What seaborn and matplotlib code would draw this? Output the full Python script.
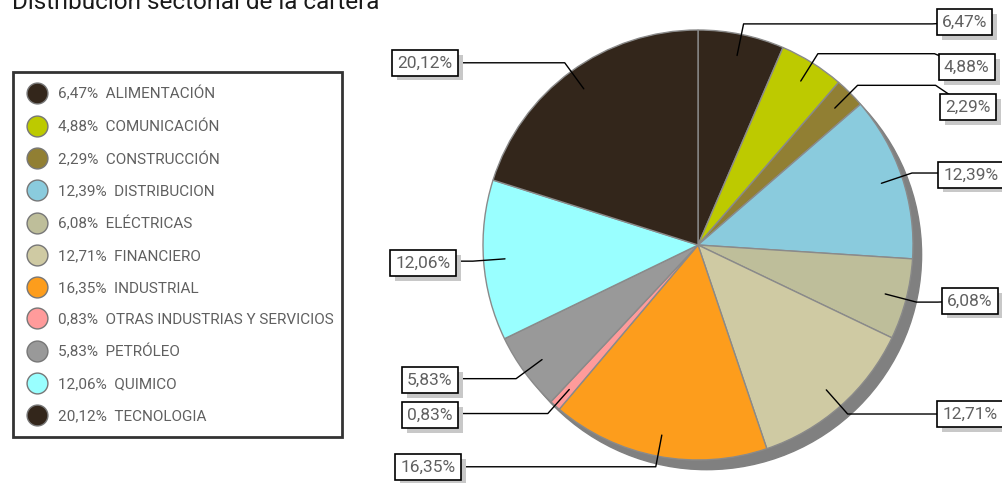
import numpy as np
import seaborn as sns
import matplotlib.pyplot as plt
from matplotlib.lines import Line2D
import matplotlib.patheffects as pe

# Sector weights of the portfolio (%)
sectors = ['ALIMENTACIÓN', 'COMUNICACIÓN', 'CONSTRUCCIÓN', 'DISTRIBUCION', 'ELÉCTRICAS',
           'FINANCIERO', 'INDUSTRIAL', 'OTRAS INDUSTRIAS Y SERVICIOS', 'PETRÓLEO',
           'QUIMICO', 'TECNOLOGIA']
weights = [6.47, 4.88, 2.29, 12.39, 6.08, 12.71, 16.35, 0.83, 5.83, 12.06, 20.12]

colors = ['#33261b', '#bdca00', '#917f33', '#8acbdd', '#bebe9a', '#cfcaa3',
          '#fd9d1c', '#ff9b9b', '#999999', '#99ffff', '#33261b']

# label box centres around the pie (pie radius = 1, centre = 0,0)
label_pos = [(1.24, 1.037), (1.25, 0.828), (1.255, 0.642), (1.27, 0.326), (1.265, -0.26),
             (1.265, -0.786), (-1.256, -1.033), (-1.247, -0.791), (-1.247, -0.628),
             (-1.279, -0.084), (-1.27, 0.847)]

sns.set_style('white')
plt.rcParams['font.family'] = ['Roboto', 'DejaVu Sans']

fig = plt.figure(figsize=(10.02, 4.83), dpi=100)
ax = fig.add_axes([0, 0, 1, 1])

# 3d-ish shadow under the pie
ax.add_patch(plt.Circle((0.04, -0.045), 1, color='#808080', zorder=0))

wedges, _ = ax.pie(weights, colors=colors, startangle=90, counterclock=False,
                   radius=1, wedgeprops=dict(edgecolor='#8a8a8a', linewidth=1))

fmt = lambda v: f'{v:.2f}'.replace('.', ',') + '%'

cum = np.cumsum([0] + weights[:-1])
for v, c, (lx, ly) in zip(weights, cum, label_pos):
    ang = np.deg2rad(90 - (c + v / 2) * 3.6)
    ax_, ay_ = 0.9 * np.cos(ang), 0.9 * np.sin(ang)
    ex, ey = 1.05 * np.cos(ang), 1.05 * np.sin(ang)
    kx = lx - 0.15 if lx > 0 else lx + 0.15
    ax.plot([ax_, ex, kx, lx], [ay_, ey, ey, ly], color='black', lw=1, zorder=3)
    t = ax.text(lx, ly, fmt(v), ha='center', va='center', fontsize=12.5, color='#606060',
                zorder=4,
                bbox=dict(boxstyle='square,pad=0.3', fc='white', ec='black', lw=1.2))
    t.get_bbox_patch().set_path_effects([
        pe.SimplePatchShadow(offset=(3.5, -3.5), shadow_rgbFace='#c8c8c8', alpha=1), pe.Normal()])

ax.set_xlim((0 - 698) / 215, (1002 - 698) / 215)
ax.set_ylim((245 - 483) / 215, 245 / 215)
ax.set_aspect('auto')
ax.axis('off')

handles = [Line2D([], [], ls='', marker='o', markersize=15, markerfacecolor=col,
                  markeredgecolor='#777777', markeredgewidth=1) for col in colors]
labels = [f'{fmt(v)}  {s}' for v, s in zip(weights, sectors)]
leg = fig.legend(handles, labels, loc='upper left',
                 bbox_to_anchor=(13 / 1002, 1 - 433 / 483, 329 / 1002, 361 / 483),
                 mode='expand', borderaxespad=0, frameon=True, fancybox=False,
                 handlelength=1.4, handletextpad=0.65, borderpad=0.9, labelspacing=1.16,
                 prop={'size': 11})
leg.get_frame().set_edgecolor('black')
leg.get_frame().set_linewidth(2)
for txt in leg.get_texts():
    txt.set_color('#606060')

fig.text(12 / 1002, 1 - 9 / 483, 'Distribución sectorial de la cartera', fontsize=17.5,
         color='#1a1a1a', va='baseline', ha='left')

plt.savefig('out.png', dpi=100)
